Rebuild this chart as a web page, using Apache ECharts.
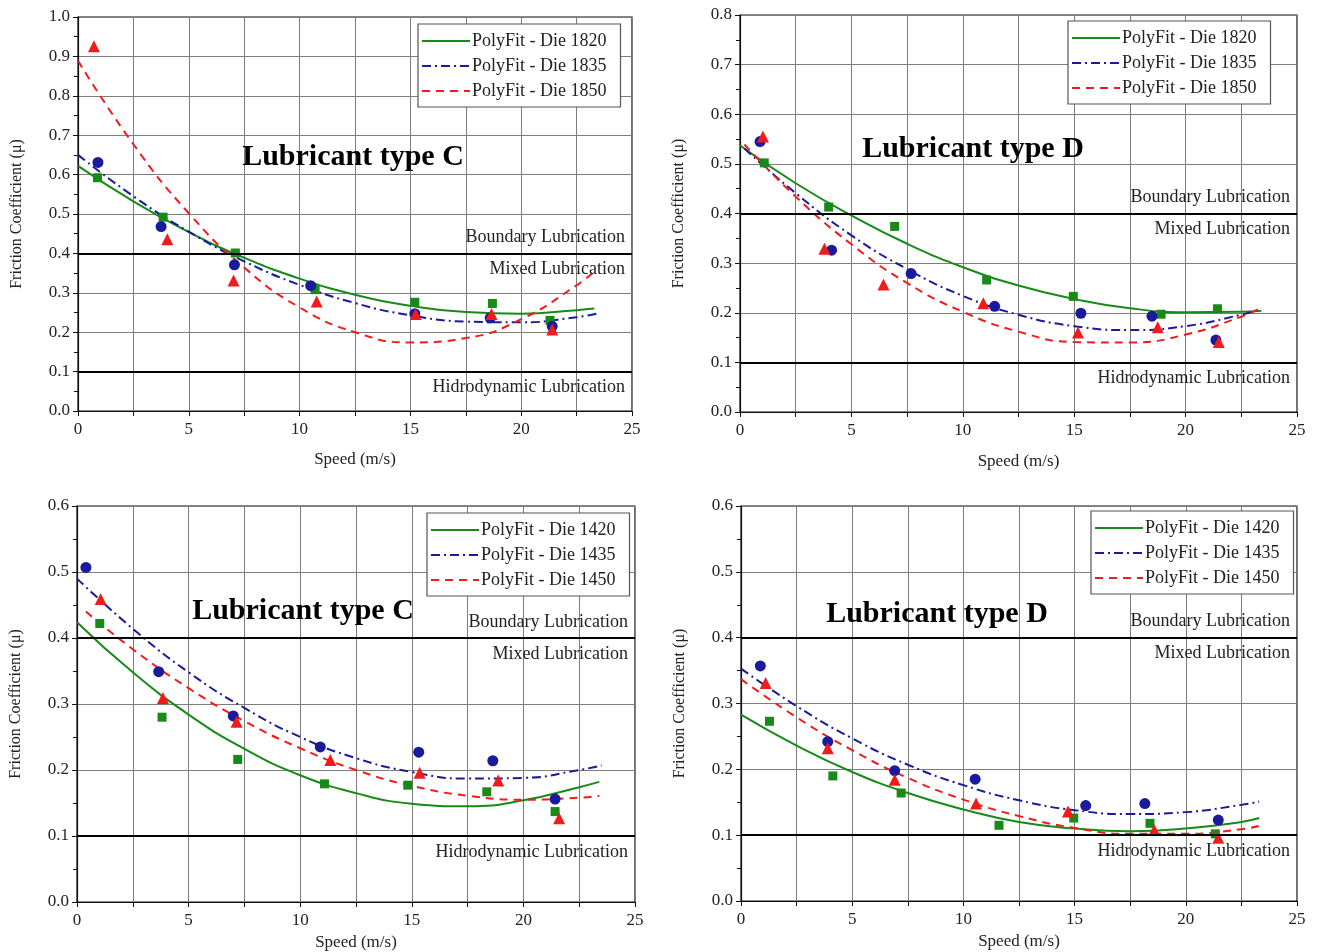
<!DOCTYPE html>
<html>
<head>
<meta charset="utf-8">
<script src="https://cdn.jsdelivr.net/npm/echarts@6/dist/echarts.min.js"></script>
<style>
  html, body { margin: 0; padding: 0; background: #fff; }
  #chart { width: 1318px; height: 952px; }
</style>
</head>
<body>
<div id="chart"></div>
<script>
const speedTicks = [0, 5, 10, 15, 20, 25];
const frictionMax = [1.0, 0.8, 0.6, 0.6];
const panelTitles = ['Lubricant type C', 'Lubricant type D', 'Lubricant type C', 'Lubricant type D'];
const dieNamesTop = ['PolyFit - Die 1820', 'PolyFit - Die 1835', 'PolyFit - Die 1850'];
const dieNamesBottom = ['PolyFit - Die 1420', 'PolyFit - Die 1435', 'PolyFit - Die 1450'];
const zoneLabels = ['Boundary Lubrication', 'Mixed Lubrication', 'Hidrodynamic Lubrication'];
const zoneLimits = [0.4, 0.1];

// measured points [speed, friction] - top left (type C, dies 18xx)
const topC_1820 = [[0.88, 0.592], [3.84, 0.492], [7.1, 0.401], [10.7, 0.308], [15.2, 0.276], [18.7, 0.273], [21.3, 0.23]];
const topC_1835 = [[0.9, 0.631], [3.75, 0.468], [7.06, 0.371], [10.5, 0.318], [15.2, 0.247], [18.6, 0.236], [21.4, 0.215]];
const topC_1850 = [[0.72, 0.926], [4.03, 0.436], [7.02, 0.331], [10.77, 0.278], [15.24, 0.246], [18.66, 0.246], [21.4, 0.207]];
// poly fit curves
const topC_fit1820 = [[0, 0.622], [2.5, 0.532], [5, 0.454], [7.5, 0.389], [10, 0.336], [12.5, 0.295], [15, 0.267], [17.5, 0.251], [20, 0.247], [22.5, 0.256], [23.3, 0.26]];
const topC_fit1835 = [[0, 0.65], [2.5, 0.545], [5, 0.455], [7.5, 0.38], [10, 0.32], [12.5, 0.274], [15, 0.243], [17.5, 0.227], [20, 0.225], [22.5, 0.238], [23.5, 0.248]];
const topC_fit1850 = [[0, 0.889], [2.5, 0.677], [5, 0.502], [7.5, 0.364], [10, 0.263], [12.5, 0.2], [15, 0.174], [17.5, 0.185], [20, 0.233], [22.5, 0.319], [23.3, 0.354]];

// top right (type D, dies 18xx)
const topD_1820 = [[1.09, 0.502], [3.98, 0.413], [6.94, 0.374], [11.07, 0.266], [14.96, 0.233], [18.9, 0.197], [21.43, 0.208]];
const topD_1835 = [[0.9, 0.545], [4.11, 0.326], [7.68, 0.279], [11.43, 0.213], [15.3, 0.199], [18.49, 0.193], [21.36, 0.145]];
const topD_1850 = [[1.03, 0.555], [3.79, 0.329], [6.44, 0.257], [10.92, 0.219], [15.17, 0.16], [18.75, 0.171], [21.49, 0.141]];
const topD_fit1820 = [[0, 0.537], [2.5, 0.461], [5, 0.396], [7.5, 0.339], [10, 0.292], [12.5, 0.255], [15, 0.228], [17.5, 0.209], [20, 0.201], [22.5, 0.202], [23.4, 0.204]];
const topD_fit1835 = [[0.2, 0.531], [2.5, 0.441], [5, 0.356], [7.5, 0.288], [10, 0.234], [12.5, 0.196], [15, 0.173], [17.5, 0.165], [20, 0.173], [22.5, 0.196], [23.3, 0.206]];
const topD_fit1850 = [[0.2, 0.539], [2.5, 0.434], [5, 0.338], [7.5, 0.26], [10, 0.202], [12.5, 0.162], [15, 0.141], [17.5, 0.14], [20, 0.156], [22.5, 0.192], [23.3, 0.208]];

// bottom left (type C, dies 14xx)
const botC_1420 = [[1.02, 0.422], [3.81, 0.28], [7.2, 0.216], [11.09, 0.179], [14.82, 0.177], [18.36, 0.167], [21.42, 0.137]];
const botC_1435 = [[0.4, 0.507], [3.66, 0.349], [7.0, 0.282], [10.9, 0.235], [15.31, 0.227], [18.63, 0.214], [21.42, 0.156]];
const botC_1450 = [[1.06, 0.459], [3.85, 0.309], [7.15, 0.273], [11.35, 0.215], [15.35, 0.196], [18.87, 0.184], [21.6, 0.127]];
const botC_fit1420 = [[0, 0.424], [2.5, 0.348], [5, 0.284], [7.5, 0.232], [10, 0.192], [12.5, 0.165], [15, 0.149], [17.5, 0.145], [20, 0.154], [22.5, 0.174], [23.4, 0.182]];
const botC_fit1435 = [[0, 0.49], [2.5, 0.414], [5, 0.348], [7.5, 0.294], [10, 0.25], [12.5, 0.218], [15, 0.197], [17.5, 0.187], [20, 0.188], [22.5, 0.2], [23.5, 0.207]];
const botC_fit1450 = [[0.4, 0.44], [2.5, 0.383], [5, 0.324], [7.5, 0.274], [10, 0.233], [12.5, 0.2], [15, 0.176], [17.5, 0.161], [20, 0.155], [22.5, 0.158], [23.4, 0.161]];

// bottom right (type D, dies 14xx)
const botD_1420 = [[1.28, 0.273], [4.13, 0.19], [7.2, 0.164], [11.6, 0.115], [14.96, 0.126], [18.39, 0.118], [21.33, 0.102]];
const botD_1435 = [[0.87, 0.357], [3.9, 0.242], [6.91, 0.198], [10.53, 0.185], [15.5, 0.145], [18.16, 0.148], [21.46, 0.123]];
const botD_1450 = [[1.11, 0.331], [3.9, 0.232], [6.91, 0.184], [10.57, 0.148], [14.7, 0.136], [18.58, 0.108], [21.46, 0.096]];
const botD_fit1420 = [[0, 0.283], [2.5, 0.236], [5, 0.196], [7.5, 0.164], [10, 0.139], [12.5, 0.12], [15, 0.11], [17.5, 0.106], [20, 0.11], [22.5, 0.12], [23.3, 0.126]];
const botD_fit1435 = [[0, 0.353], [2.5, 0.296], [5, 0.247], [7.5, 0.207], [10, 0.176], [12.5, 0.153], [15, 0.138], [17.5, 0.132], [20, 0.135], [22.5, 0.146], [23.3, 0.151]];
const botD_fit1450 = [[0, 0.337], [2.5, 0.279], [5, 0.229], [7.5, 0.187], [10, 0.154], [12.5, 0.129], [15, 0.111], [17.5, 0.102], [20, 0.102], [22.5, 0.109], [23.3, 0.114]];

const FONT = '"Liberation Serif", "DejaVu Serif", serif';
const colors = ['#178a17', '#1a1a9c', '#f01c1c'];
const lineTypes = ['solid', [9, 4, 2, 4], [8, 6]];
const symbols = ['rect', 'circle', 'triangle'];
const symbolSizes = [9, 11, 12];

// layout of the 4 panels (pixels)
const panels = [
  { grid: { left: 78, top: 17, width: 554, height: 394 }, nameGap: 40, legend: { left: 418, top: 24 }, title: [353, 157],
    names: dieNamesTop, points: [topC_1820, topC_1835, topC_1850], fits: [topC_fit1820, topC_fit1835, topC_fit1850] },
  { grid: { left: 740, top: 15, width: 557, height: 397 }, nameGap: 41, legend: { left: 1068, top: 21 }, title: [973, 149],
    names: dieNamesTop, points: [topD_1820, topD_1835, topD_1850], fits: [topD_fit1820, topD_fit1835, topD_fit1850] },
  { grid: { left: 77, top: 506, width: 558, height: 396 }, nameGap: 32, legend: { left: 427, top: 513 }, title: [303, 611],
    names: dieNamesBottom, points: [botC_1420, botC_1435, botC_1450], fits: [botC_fit1420, botC_fit1435, botC_fit1450] },
  { grid: { left: 741, top: 506, width: 556, height: 395 }, nameGap: 32, legend: { left: 1091, top: 511 }, title: [937, 614],
    names: dieNamesBottom, points: [botD_1420, botD_1435, botD_1450], fits: [botD_fit1420, botD_fit1435, botD_fit1450] }
];

const grids = [], xAxes = [], yAxes = [], legends = [], series = [], graphics = [];

panels.forEach((p, i) => {
  grids.push(Object.assign({ show: true, borderColor: '#111', borderWidth: 1.2, backgroundColor: '#fff' }, p.grid));

  xAxes.push({
    gridIndex: i, type: 'value',
    min: speedTicks[0], max: speedTicks[speedTicks.length - 1], interval: 5,
    name: 'Speed (m/s)', nameLocation: 'middle', nameGap: p.nameGap,
    nameTextStyle: { fontFamily: FONT, fontSize: 17, color: '#222' },
    axisLine: { onZero: false, lineStyle: { color: '#111', width: 1.2 } },
    axisTick: { show: true, inside: false, length: 5, lineStyle: { color: '#111' } },
    minorTick: { show: true, splitNumber: 2, length: 5, lineStyle: { color: '#111' } },
    axisLabel: { fontFamily: FONT, fontSize: 17, color: '#222', margin: 10 },
    splitLine: { show: true, lineStyle: { color: '#7d7d7d', width: 1 } },
    minorSplitLine: { show: true, lineStyle: { color: '#7d7d7d', width: 1 } }
  });

  yAxes.push({
    gridIndex: i, type: 'value',
    min: 0, max: frictionMax[i], interval: 0.1,
    name: 'Friction Coefficient (\u03bc)', nameLocation: 'middle', nameGap: 53,
    nameTextStyle: { fontFamily: FONT, fontSize: 16, color: '#222' },
    axisLine: { onZero: false, lineStyle: { color: '#111', width: 1.2 } },
    axisTick: { show: true, inside: false, length: 5, lineStyle: { color: '#111' } },
    minorTick: { show: true, splitNumber: 2, length: 4, lineStyle: { color: '#111' } },
    axisLabel: { fontFamily: FONT, fontSize: 17, color: '#222', margin: 8, formatter: v => v.toFixed(1) },
    splitLine: { show: true, lineStyle: { color: '#7d7d7d', width: 1 } }
  });

  legends.push({
    orient: 'vertical', left: p.legend.left, top: p.legend.top,
    data: p.names, selectedMode: false,
    backgroundColor: '#fff', borderColor: '#555', borderWidth: 1.2,
    padding: [8, 14, 7, 3], itemGap: 7, itemWidth: 48, itemHeight: 16,
    itemStyle: { opacity: 0 },
    textStyle: { fontFamily: FONT, fontSize: 18, color: '#222', padding: [0, 0, 0, -3] }
  });

  graphics.push({
    type: 'text', x: p.title[0], y: p.title[1], z: 10,
    style: { text: panelTitles[i], font: 'bold 30px ' + FONT, fill: '#000', textAlign: 'center', textVerticalAlign: 'middle' }
  });

  p.names.forEach((name, j) => {
    const line = {
      type: 'line', name: name, xAxisIndex: i, yAxisIndex: i,
      data: p.fits[j], smooth: 0.5, symbol: 'none', showSymbol: false,
      lineStyle: { color: colors[j], width: 2, type: lineTypes[j] },
      itemStyle: { color: colors[j] }, z: 3, silent: true
    };
    if (j === 0) {
      const zoneLabel = (text, pos) => ({
        show: true, formatter: text, position: pos, distance: 7,
        fontFamily: FONT, fontSize: 18, color: '#222'
      });
      line.markLine = {
        silent: true, symbol: ['none', 'none'], animation: false,
        lineStyle: { color: '#000', width: 2, type: 'solid' },
        data: [
          { yAxis: zoneLimits[0], label: zoneLabel(zoneLabels[0], 'insideEndTop') },
          { yAxis: zoneLimits[0], label: zoneLabel(zoneLabels[1], 'insideEndBottom') },
          { yAxis: zoneLimits[1], label: zoneLabel(zoneLabels[2], 'insideEndBottom') }
        ]
      };
    }
    series.push(line);
    series.push({
      type: 'scatter', name: name + ' data', xAxisIndex: i, yAxisIndex: i,
      data: p.points[j], symbol: symbols[j], symbolSize: symbolSizes[j],
      itemStyle: { color: colors[j], opacity: 1 }, z: 4, silent: true
    });
  });
});

const chart = echarts.init(document.getElementById('chart'));
chart.setOption({
  animation: false,
  backgroundColor: '#fff',
  grid: grids,
  xAxis: xAxes,
  yAxis: yAxes,
  legend: legends,
  graphic: graphics,
  series: series
});
</script>
</body>
</html>
